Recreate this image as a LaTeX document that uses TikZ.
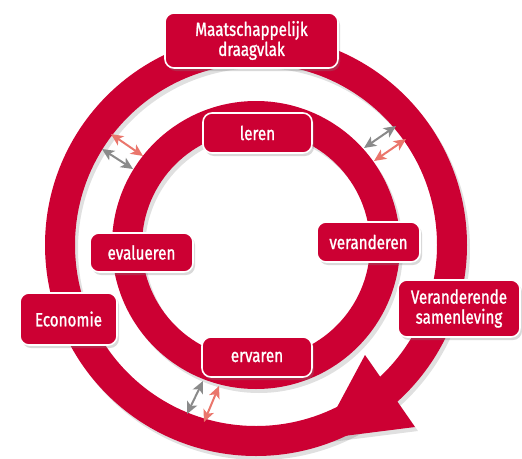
\documentclass[tikz,border=0pt]{standalone}
\usepackage{fontspec}
\setmainfont{Fira Sans}[FakeStretch=0.8,FakeBold=1.2]
\usepackage{tikz}
\usetikzlibrary{arrows.meta,shadows}
\definecolor{ringred}{RGB}{204,0,51}
\definecolor{arrgrey}{RGB}{138,138,138}
\definecolor{arrsalmon}{RGB}{234,118,108}

\begin{document}
\begin{tikzpicture}[x=1pt,y=-1pt,
    box/.style={draw=white,line width=1.6pt,fill=ringred,rounded corners=9pt,text=white,align=center,
      font=\fontsize{19}{20}\selectfont,inner sep=0pt,
      drop shadow={shadow xshift=2pt,shadow yshift=-3pt,opacity=0.3}},
    twoway/.style={{Stealth[length=12pt,width=11pt,inset=3pt]}-{Stealth[length=12pt,width=11pt,inset=3pt]},line width=2pt}]
  \useasboundingbox (0,0) rectangle (522,458);
  \def\cx{256}
  \def\cy{245}
  % shadows of the rings
  \fill[black,opacity=0.12,even odd rule] (\cx+3,\cy+4) circle[radius=211] (\cx+3,\cy+4) circle[radius=181];
  \fill[black,opacity=0.12,even odd rule] (\cx+3,\cy+4) circle[radius=144] (\cx+3,\cy+4) circle[radius=114];
  \fill[black,opacity=0.12] (368,359) -- (418,431) -- (323,443) -- cycle;
  % outer ring with its head
  \fill[ringred,even odd rule] (\cx,\cy) circle[radius=211] (\cx,\cy) circle[radius=181];
  \fill[ringred] (365,355) -- (415,427) -- (320,439) -- cycle;
  % inner ring
  \fill[ringred,even odd rule] (\cx,\cy) circle[radius=144] (\cx,\cy) circle[radius=114];
  % labels
  \node[box,minimum width=173,minimum height=55] (draagvlak) at (251.5,40.5) {Maatschappelijk\\draagvlak};
  \node[box,minimum width=109,minimum height=40] (leren) at (257.5,133) {leren};
  \node[box,minimum width=103,minimum height=39] (evalueren) at (141.5,252.5) {evalueren};
  \node[box,minimum width=103,minimum height=40] (veranderen) at (368.5,242) {veranderen};
  \node[box,minimum width=110,minimum height=40] (ervaren) at (257,357) {ervaren};
  \node[box,minimum width=97,minimum height=52] (economie) at (68.5,319) {Economie};
  \node[box,minimum width=122,minimum height=57] (samenleving) at (459,308.5) {Veranderende\\samenleving};
  % small double arrows between the rings
  \coordinate (ula) at (111,134); \coordinate (ulb) at (143,156);
  \coordinate (ulc) at (102,149); \coordinate (uld) at (133,169);
  \coordinate (ura) at (364,148); \coordinate (urb) at (396,126);
  \coordinate (urc) at (374,161); \coordinate (urd) at (406,139);
  \coordinate (bla) at (187,414); \coordinate (blb) at (203,381);
  \coordinate (blc) at (204,422); \coordinate (bld) at (219,386);
  \draw[twoway,arrsalmon] (ula) -- (ulb);
  \draw[twoway,arrgrey] (ulc) -- (uld);
  \draw[twoway,arrgrey] (ura) -- (urb);
  \draw[twoway,arrsalmon] (urc) -- (urd);
  \draw[twoway,arrgrey] (bla) -- (blb);
  \draw[twoway,arrsalmon] (blc) -- (bld);
\end{tikzpicture}
\end{document}
